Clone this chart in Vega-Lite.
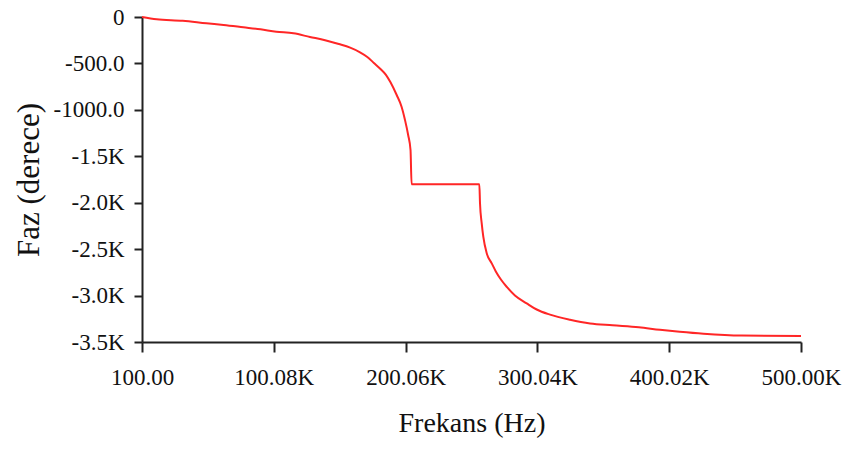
{
  "$schema": "https://vega.github.io/schema/vega-lite/v6.json",
  "autosize": "none",
  "width": 659,
  "height": 325,
  "padding": {"left": 142, "top": 17, "right": 47, "bottom": 118},
  "background": "white",
  "config": {
    "view": {"stroke": null},
    "font": "Liberation Serif",
    "axis": {
      "grid": false,
      "domainColor": "#222222",
      "domainWidth": 2,
      "tickColor": "#222222",
      "tickWidth": 2,
      "labelFont": "Liberation Serif",
      "labelFontSize": 23,
      "labelColor": "#111111",
      "titleFont": "Liberation Serif",
      "titleFontWeight": "normal",
      "titleColor": "#111111"
    }
  },
  "data": {
    "values": [
      {"f": 100, "phase": 0},
      {"f": 11200, "phase": -25},
      {"f": 31000, "phase": -40},
      {"f": 49000, "phase": -68},
      {"f": 62000, "phase": -86},
      {"f": 77000, "phase": -111},
      {"f": 90000, "phase": -133},
      {"f": 102000, "phase": -158},
      {"f": 115000, "phase": -176},
      {"f": 127500, "phase": -215},
      {"f": 139000, "phase": -250},
      {"f": 149400, "phase": -291},
      {"f": 158000, "phase": -330},
      {"f": 165500, "phase": -380},
      {"f": 171000, "phase": -430},
      {"f": 176000, "phase": -495},
      {"f": 181000, "phase": -560},
      {"f": 185000, "phase": -620},
      {"f": 188500, "phase": -700},
      {"f": 193300, "phase": -840},
      {"f": 197000, "phase": -966},
      {"f": 199600, "phase": -1109},
      {"f": 202000, "phase": -1271},
      {"f": 203800, "phase": -1432},
      {"f": 204600, "phase": -1800},
      {"f": 256000, "phase": -1800},
      {"f": 256500, "phase": -2006},
      {"f": 257800, "phase": -2222},
      {"f": 259000, "phase": -2366},
      {"f": 261600, "phase": -2545},
      {"f": 265400, "phase": -2653},
      {"f": 268500, "phase": -2740},
      {"f": 272500, "phase": -2830},
      {"f": 277000, "phase": -2910},
      {"f": 283000, "phase": -3000},
      {"f": 291900, "phase": -3084},
      {"f": 299500, "phase": -3150},
      {"f": 309600, "phase": -3205},
      {"f": 324800, "phase": -3260},
      {"f": 340000, "phase": -3300},
      {"f": 357000, "phase": -3320},
      {"f": 377000, "phase": -3342},
      {"f": 393000, "phase": -3368},
      {"f": 408000, "phase": -3389},
      {"f": 426000, "phase": -3410},
      {"f": 455000, "phase": -3430},
      {"f": 500000, "phase": -3435}
    ]
  },
  "mark": {"type": "line", "color": "#ff2626", "strokeWidth": 2, "interpolate": "monotone"},
  "encoding": {
    "x": {
      "field": "f",
      "type": "quantitative",
      "scale": {"domain": [100, 500000], "nice": false, "zero": false},
      "axis": {
        "title": "Frekans (Hz)",
        "titleFont": "Liberation Serif",
        "titleFontSize": 28,
        "titlePadding": 20,
        "labelFont": "Liberation Serif",
        "labelFontSize": 23,
        "values": [100, 100080, 200060, 300040, 400020, 500000],
        "labelExpr": "datum.value < 1000 ? format(datum.value, '.2f') : format(datum.value / 1000, '.2f') + 'K'",
        "tickSize": 10,
        "labelPadding": 14,
        "labelFlush": false,
        "labelOverlap": false
      }
    },
    "y": {
      "field": "phase",
      "type": "quantitative",
      "scale": {"domain": [-3500, 0], "nice": false, "zero": false},
      "axis": {
        "title": "Faz (derece)",
        "titleFont": "Liberation Serif",
        "titleFontSize": 31,
        "titlePadding": 8,
        "labelFont": "Liberation Serif",
        "labelFontSize": 23,
        "values": [0, -500, -1000, -1500, -2000, -2500, -3000, -3500],
        "labelExpr": "datum.value == 0 ? '0' : (abs(datum.value) < 1500 ? '-' + format(abs(datum.value), '.1f') : '-' + format(abs(datum.value) / 1000, '.1f') + 'K')",
        "tickSize": 8,
        "labelPadding": 10,
        "labelFlush": false,
        "labelOverlap": false
      }
    }
  }
}
